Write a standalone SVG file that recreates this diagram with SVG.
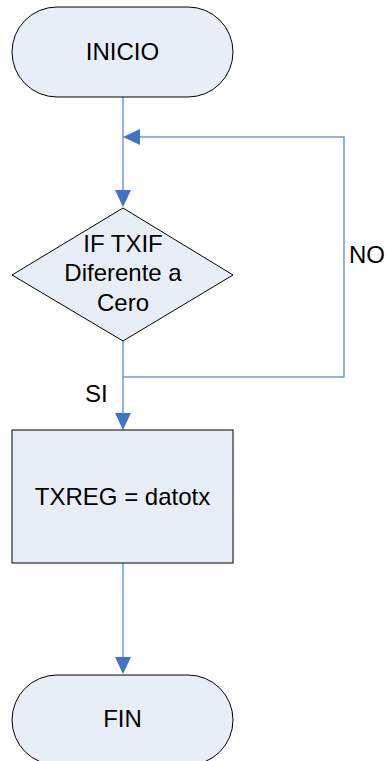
<svg xmlns="http://www.w3.org/2000/svg" width="388" height="761" viewBox="0 0 388 761">
<style>
.n{fill:#E8EEF8;stroke:#000;stroke-width:1}
.t{font-family:"Liberation Sans",Arial,sans-serif;font-size:24px;fill:#000;text-anchor:middle}
.l{font-family:"Liberation Sans",Arial,sans-serif;font-size:24px;fill:#000}
.c{fill:none;stroke:#7098D8;stroke-width:1.5}
.a{fill:#4472C4}
</style>
<rect width="388" height="761" fill="#fff"/>
<g id="connectors">
<line class="c" x1="123" y1="97" x2="123" y2="192"/>
<polygon class="a" points="115,190 131,190 123,207"/>
<polyline class="c" points="123,341 123,377 344,377 344,137 138,137"/>
<polygon class="a" points="123,137 140,129 140,145"/>
<line class="c" x1="123" y1="377" x2="123" y2="415"/>
<polygon class="a" points="115,413 131,413 123,430"/>
<line class="c" x1="123" y1="563" x2="123" y2="659"/>
<polygon class="a" points="115,657 131,657 123,674"/>
<text class="l" x="85" y="402">SI</text>
<text class="l" x="349" y="263">NO</text>
</g>
<g id="inicio">
<rect class="n" x="12" y="7" width="221" height="90" rx="45" ry="45"/>
<text class="t" x="122.5" y="60">INICIO</text>
</g>
<g id="decision">
<polygon class="n" points="123,208 233,275 123,341 12,275"/>
<text class="t" x="123" y="252">IF TXIF</text>
<text class="t" x="123" y="281">Diferente a</text>
<text class="t" x="123" y="311">Cero</text>
</g>
<g id="proceso">
<rect class="n" x="12" y="430" width="221" height="133"/>
<text class="t" x="122.5" y="505">TXREG = datotx</text>
</g>
<g id="fin">
<rect class="n" x="12" y="675" width="221" height="90" rx="45" ry="45"/>
<text class="t" x="122.5" y="727">FIN</text>
</g>
</svg>
